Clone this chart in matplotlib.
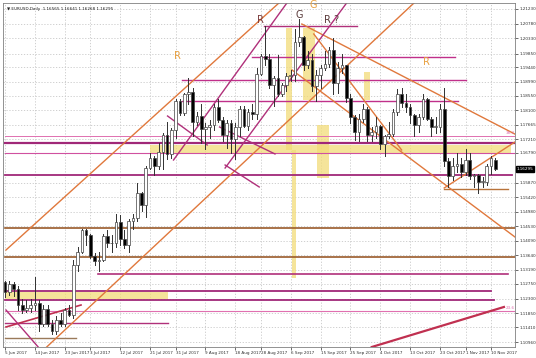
import numpy as np
import matplotlib.pyplot as plt
from matplotlib.patches import Rectangle

# EURUSD daily bars, 5 Jun 2017 .. 13 Nov 2017 (bar index = position on chart)
opens = [1.1280, 1.1250, 1.1275, 1.1260, 1.1210, 1.1195, 1.1200, 1.1210, 1.1215, 1.1150,
         1.1197, 1.1150, 1.1130, 1.1165, 1.1150, 1.1195, 1.1180, 1.1335, 1.1375, 1.1440,
         1.1425, 1.1360, 1.1345, 1.1350, 1.1423, 1.1400, 1.1400, 1.1465, 1.1414, 1.1396,
         1.1470, 1.1478, 1.1557, 1.1519, 1.1632, 1.1665, 1.1640, 1.1683, 1.1734, 1.1677,
         1.1750, 1.1840, 1.1803, 1.1860, 1.1867, 1.1773, 1.1793, 1.1752, 1.1758, 1.1764,
         1.1822, 1.1780, 1.1734, 1.1772, 1.1723, 1.1760, 1.1815, 1.1761, 1.1805, 1.1800,
         1.1923, 1.1977, 1.1968, 1.1888, 1.1911, 1.1860, 1.1889, 1.1916, 1.1918, 1.2022,
         1.2036, 1.1950, 1.1966, 1.1886, 1.1920, 1.1942, 1.1952, 1.1996, 1.1894, 1.1940,
         1.1950, 1.1848, 1.1791, 1.1745, 1.1785, 1.1815, 1.1733, 1.1744, 1.1761, 1.1706,
         1.1731, 1.1738, 1.1806, 1.1860, 1.1834, 1.1822, 1.1795, 1.1765, 1.1790, 1.1846,
         1.1785, 1.1760, 1.1760, 1.1814, 1.1655, 1.1608, 1.1640, 1.1645, 1.1620, 1.1657,
         1.1608, 1.1610, 1.1590, 1.1590, 1.1640, 1.1656]
highs = [1.1285, 1.1285, 1.1282, 1.1270, 1.1230, 1.1225, 1.1230, 1.1295, 1.1225, 1.1210,
         1.1210, 1.1165, 1.1175, 1.1185, 1.1200, 1.1210, 1.1350, 1.1390, 1.1445, 1.1445,
         1.1430, 1.1370, 1.1375, 1.1430, 1.1440, 1.1425, 1.1490, 1.1488, 1.1440, 1.1475,
         1.1490, 1.1585, 1.1560, 1.1640, 1.1680, 1.1670, 1.1710, 1.1740, 1.1776, 1.1755,
         1.1845, 1.1845, 1.1865, 1.1910, 1.1880, 1.1805, 1.1830, 1.1770, 1.1780, 1.1830,
         1.1845, 1.1790, 1.1780, 1.1780, 1.1770, 1.1825, 1.1825, 1.1815, 1.1830, 1.1940,
         1.1985, 1.2070, 1.1985, 1.1915, 1.1980, 1.1895, 1.1925, 1.1935, 1.2060, 1.2092,
         1.2040, 1.1995, 1.1985, 1.1935, 1.1950, 1.1995, 1.2005, 1.2035, 1.1960, 1.1985,
         1.1950, 1.1860, 1.1795, 1.1800, 1.1830, 1.1820, 1.1760, 1.1790, 1.1765, 1.1735,
         1.1775, 1.1815, 1.1875, 1.1880, 1.1860, 1.1830, 1.1800, 1.1800, 1.1860, 1.1850,
         1.1790, 1.1790, 1.1830, 1.1880, 1.1665, 1.1665, 1.1680, 1.1665, 1.1690, 1.1680,
         1.1615, 1.1615, 1.1605, 1.1645, 1.1670, 1.1664]
lows = [1.1235, 1.1240, 1.1238, 1.1195, 1.1185, 1.1187, 1.1190, 1.1195, 1.1130, 1.1145,
        1.1145, 1.1120, 1.1120, 1.1145, 1.1145, 1.1175, 1.1170, 1.1315, 1.1370, 1.1395,
        1.1355, 1.1335, 1.1315, 1.1345, 1.1390, 1.1375, 1.1390, 1.1395, 1.1385, 1.1375,
        1.1445, 1.1470, 1.1500, 1.1480, 1.1630, 1.1610, 1.1630, 1.1630, 1.1660, 1.1665,
        1.1725, 1.1795, 1.1795, 1.1830, 1.1730, 1.1765, 1.1710, 1.1690, 1.1725, 1.1750,
        1.1775, 1.1715, 1.1695, 1.1680, 1.1660, 1.1730, 1.1760, 1.1750, 1.1785, 1.1785,
        1.1920, 1.1950, 1.1880, 1.1825, 1.1855, 1.1855, 1.1870, 1.1900, 1.1900, 1.2010,
        1.1935, 1.1940, 1.1870, 1.1840, 1.1880, 1.1935, 1.1945, 1.1860, 1.1865, 1.1925,
        1.1835, 1.1770, 1.1720, 1.1717, 1.1775, 1.1715, 1.1715, 1.1725, 1.1690, 1.1670,
        1.1725, 1.1730, 1.1795, 1.1820, 1.1805, 1.1770, 1.1730, 1.1745, 1.1785, 1.1780,
        1.1730, 1.1740, 1.1745, 1.1640, 1.1575, 1.1595, 1.1620, 1.1605, 1.1610, 1.1600,
        1.1575, 1.1555, 1.1575, 1.1580, 1.1615, 1.1627]
closes = [1.1250, 1.1275, 1.1260, 1.1210, 1.1195, 1.1200, 1.1210, 1.1215, 1.1150, 1.1197,
          1.1150, 1.1130, 1.1165, 1.1150, 1.1195, 1.1180, 1.1335, 1.1375, 1.1440, 1.1425,
          1.1360, 1.1345, 1.1350, 1.1423, 1.1400, 1.1400, 1.1465, 1.1414, 1.1396, 1.1470,
          1.1478, 1.1557, 1.1519, 1.1632, 1.1665, 1.1640, 1.1683, 1.1734, 1.1677, 1.1750,
          1.1840, 1.1803, 1.1860, 1.1867, 1.1773, 1.1793, 1.1752, 1.1758, 1.1764, 1.1822,
          1.1780, 1.1734, 1.1772, 1.1723, 1.1760, 1.1815, 1.1761, 1.1805, 1.1800, 1.1923,
          1.1977, 1.1968, 1.1888, 1.1911, 1.1860, 1.1889, 1.1916, 1.1918, 1.2022, 1.2036,
          1.1950, 1.1966, 1.1886, 1.1920, 1.1942, 1.1952, 1.1996, 1.1894, 1.1940, 1.1950,
          1.1848, 1.1791, 1.1745, 1.1785, 1.1815, 1.1733, 1.1744, 1.1761, 1.1706, 1.1731,
          1.1738, 1.1806, 1.1860, 1.1834, 1.1822, 1.1795, 1.1765, 1.1790, 1.1846, 1.1785,
          1.1760, 1.1760, 1.1814, 1.1655, 1.1608, 1.1640, 1.1645, 1.1620, 1.1657, 1.1608,
          1.1610, 1.1590, 1.1590, 1.1640, 1.1664, 1.1630]

# axis labels
price_ticks = [1.21230, 1.20780, 1.20330, 1.19850, 1.19440, 1.18990, 1.18550, 1.18100,
               1.17665, 1.17210, 1.16790, 1.15870, 1.15420, 1.14980, 1.14530, 1.14090,
               1.13640, 1.13190, 1.12750, 1.12300, 1.11850, 1.11410, 1.10960]
date_labels = ['5 Jun 2017', '14 Jun 2017', '23 Jun 2017', '3 Jul 2017', '12 Jul 2017',
               '21 Jul 2017', '31 Jul 2017', '9 Aug 2017', '18 Aug 2017', '28 Aug 2017',
               '6 Sep 2017', '15 Sep 2017', '25 Sep 2017', '4 Oct 2017', '13 Oct 2017',
               '23 Oct 2017', '1 Nov 2017', '10 Nov 2017']
date_pos = [0, 7, 14, 20, 27, 34, 40, 47, 54, 60, 67, 74, 81, 88, 95, 102, 108, 114]
last_price = 1.16295

# horizontal levels: price, from bar, to bar, colour, width
levels = [
    (1.20706, 60.7, 82.5, '#b0307a', 1.0),
    (1.19750, 58.0, 105.6, '#c0308a', 1.0),
    (1.19040, 41.6, 108.2, '#c0308a', 1.0),
    (1.18393, 41.6, 106.3, '#c0308a', 1.0),
    (1.17313, 0, 120.3, '#e070b0', 0.7),
    (1.17097, 0, 120.3, '#a02878', 1.6),
    (1.16789, 0, 120.3, '#d050a0', 0.8),
    (1.16110, 0, 119.0, '#a02878', 1.3),
    (1.15679, 103.0, 118.0, '#b8733a', 1.0),
    (1.14476, 0, 121, '#9a5a2a', 1.2),
    (1.13582, 0, 121, '#9a5a2a', 1.2),
    (1.13058, 21.7, 118.0, '#b0307a', 1.2),
    (1.12533, 0, 114.0, '#a02878', 1.3),
    (1.12256, 0, 114.7, '#a02878', 1.3),
    (1.11916, 0, 121, '#e070b0', 0.8),
    (1.11546, 0, 38.3, '#b0307a', 1.0),
    (1.11083, 0, 16.6, '#9a7a5a', 1.0),
]

# yellow zones: from bar, to bar, low price, high price
zones = [
    (33.9, 118.7, 1.16789, 1.17036),
    (0, 38.3, 1.12286, 1.12503),
    (65.9, 67.3, 1.16882, 1.20644),
    (67.3, 68.2, 1.12927, 1.16882),
    (69.9, 72.7, 1.18424, 1.20644),
    (73.1, 75.9, 1.16018, 1.17653),
    (84.1, 85.5, 1.18424, 1.19287),
]

# trend lines: (bar1, price1), (bar2, price2), colour, width
trends = [
    ((0.2, 1.13797), (65.0, 1.21508), '#e0783c', 1.0),
    ((7.0, 1.10467), (97.0, 1.21550), '#e0783c', 1.0),
    ((86.0, 1.10806), (117.0, 1.12040), '#c03050', 1.6),
    ((0.2, 1.11423), (17.8, 1.12101), '#c03050', 1.2),
    ((0.2, 1.11947), (10.0, 1.10467), '#b0307a', 1.0),
    ((69.6, 1.20767), (120.0, 1.17344), '#e0783c', 1.0),
    ((39.5, 1.16573), (66.6, 1.21508), '#b0307a', 1.0),
    ((38.1, 1.17930), (47.4, 1.17036), '#b0307a', 1.0),
    ((50.3, 1.17591), (63.3, 1.16759), '#b0307a', 1.0),
    ((51.6, 1.16326), (80.1, 1.21415), '#b0307a', 1.0),
    ((51.6, 1.16419), (59.6, 1.15741), '#b0307a', 1.0),
    ((72.4, 1.20459), (93.0, 1.16882), '#e0783c', 1.0),
    ((67.3, 1.19349), (119.9, 1.14168), '#e0783c', 1.0),
    ((103.0, 1.15710), (120.3, 1.17190), '#e0783c', 1.0),
]

texts = [
    (40.4, 1.19780, 'R', '#e8a040'),
    (59.8, 1.20906, 'R', '#7a3a3a'),
    (68.9, 1.21040, 'G', '#5a3a3a'),
    (72.3, 1.21338, 'G', '#e8a040'),
    (76.6, 1.20906, 'R ?', '#5a3a3a'),
    (98.8, 1.19600, 'R', '#e8a040'),
]

fig = plt.figure(figsize=(5.36, 3.58), dpi=100)
ax = fig.add_axes([3 / 536, 11 / 358, 512 / 536, 344 / 358])
ax.set_xlim(-0.5, 119.6)
ax.set_ylim(1.10806, 1.21415)

# grid
for p in price_ticks:
    ax.axhline(p, color='#c8c8c8', lw=0.6, ls=(0, (1.5, 2)), zorder=0)
for d in date_pos:
    ax.axvline(d, color='#c8c8c8', lw=0.6, ls=(0, (1.5, 2)), zorder=0)

for x0, x1, lo, hi in zones:
    ax.add_patch(Rectangle((x0, lo), x1 - x0, hi - lo, color='#f2dc78', alpha=0.75, lw=0, zorder=1))

for p, x0, x1, c, w in levels:
    ax.plot([x0, x1], [p, p], color=c, lw=w, zorder=2)

for (xa, ya), (xb, yb), c, w in trends:
    ax.plot([xa, xb], [ya, yb], color=c, lw=w, zorder=2)

# candles
for i in range(len(opens)):
    o, h, l, c = opens[i], highs[i], lows[i], closes[i]
    ax.plot([i, i], [l, h], color='#303030', lw=0.7, zorder=3)
    face = 'white' if c >= o else 'black'
    body = max(abs(c - o), 0.00015)
    ax.add_patch(Rectangle((i - 0.32, min(o, c)), 0.64, body, facecolor=face,
                           edgecolor='#404040', lw=0.5, zorder=4))

for x, y, s, c in texts:
    ax.text(x, y, s, color=c, fontsize=7, ha='center', va='center', zorder=5)

ax.text(118.5, 1.17400, '38.2', color='#e070b0', fontsize=3, ha='center', va='center')
ax.text(118.5, 1.12010, '23.6', color='#e070b0', fontsize=3, ha='center', va='center')
ax.text(0.5, 1.2123, '\u25bc EURUSD,Daily  1.16565 1.16641 1.16268 1.16295',
        fontsize=3, color='#202020', va='center')

ax.yaxis.tick_right()
ax.set_yticks(price_ticks)
ax.set_yticklabels(['%.5f' % p for p in price_ticks])
ax.set_xticks(date_pos)
ax.set_xticklabels(date_labels, ha='left')
ax.tick_params(labelsize=3, length=2, width=0.5, pad=1, colors='#303030')
for s in ax.spines.values():
    s.set_color('#808080')
    s.set_linewidth(0.6)

ax.text(1.004, last_price, '%.5f' % last_price, transform=ax.get_yaxis_transform(),
        fontsize=3, color='white', va='center', ha='left',
        bbox=dict(boxstyle='square,pad=0.15', fc='black', ec='black'))

fig.savefig('out.png', dpi=100)
